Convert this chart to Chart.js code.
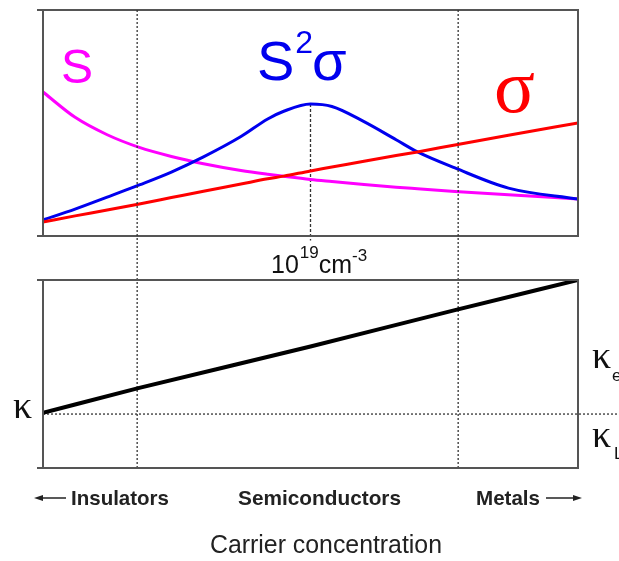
<!DOCTYPE html>
<html>
<head>
<meta charset="utf-8">
<script src="https://cdn.jsdelivr.net/npm/chart.js@4"></script>
<style>
  html, body { margin: 0; padding: 0; background: #fff; }
  #wrap { position: relative; width: 619px; height: 561px; }
  #wrap canvas { position: absolute; left: 0; top: 0; }
</style>
</head>
<body>
<div id="wrap">
  <canvas id="top-chart" width="619" height="561"></canvas>
  <canvas id="bottom-chart" width="619" height="561"></canvas>
</div>
<script>
// carrier concentration axis (arbitrary units, 50 = 10^19 cm^-3)
const xVals = [0, 6, 12, 18, 24, 30, 37, 42, 45, 50, 54, 60, 66, 70, 77, 87, 100];
const seebeck = [63.7, 52.5, 44.8, 39.2, 35.2, 32.0, 29.0, 27.3, 26.4, 25.0, 24.1, 22.8, 21.6, 20.9, 19.7, 18.2, 16.4];
const powerFactor = [7.1, 11.9, 17.2, 22.6, 28.3, 35.0, 44.0, 51.8, 55.2, 58.4, 57.3, 50.6, 42.6, 37.2, 30.1, 21.2, 16.4];
const conductivity = [6.2, 8.9, 11.5, 14.2, 17.0, 19.8, 23.0, 25.3, 26.5, 28.8, 30.5, 33.1, 35.6, 37.2, 40.3, 44.6, 50.0];

// thermal conductivity (bottom panel)
const kappaX = [0, 18, 50, 77, 100];
const kappaVals = [29.3, 42.6, 64.6, 84.0, 100];
const kappaLattice = 28.7;

// region borders and the 10^19 marker
const dividerX = [17.6, 77.6];
const peakX = 50;
const peakY = 58.4;

const regionLabels = ['Insulators', 'Semiconductors', 'Metals'];

function pts(xs, ys) {
    return xs.map((x, i) => ({ x: x, y: ys[i] }));
}

function drawFrame(chart) {
    const { ctx, chartArea: a } = chart;
    ctx.save();
    ctx.strokeStyle = '#555';
    ctx.lineWidth = 2;
    ctx.strokeRect(a.left, a.top, a.right - a.left, a.bottom - a.top);
    ctx.beginPath();
    ctx.moveTo(a.left - 6, a.top); ctx.lineTo(a.left, a.top);
    ctx.moveTo(a.left - 6, a.bottom); ctx.lineTo(a.left, a.bottom);
    ctx.stroke();
    ctx.restore();
}

function text(ctx, str, x, y, font, color, maxWidth) {
    ctx.font = font;
    ctx.fillStyle = color;
    if (maxWidth) ctx.fillText(str, x, y, maxWidth);
    else ctx.fillText(str, x, y);
    return x + Math.min(ctx.measureText(str).width, maxWidth || 1e9);
}

function arrow(ctx, x1, x2, y) {
    const dir = Math.sign(x2 - x1);
    ctx.beginPath();
    ctx.moveTo(x1, y); ctx.lineTo(x2 - dir * 6, y);
    ctx.stroke();
    ctx.beginPath();
    ctx.moveTo(x2, y);
    ctx.lineTo(x2 - dir * 9, y - 3);
    ctx.lineTo(x2 - dir * 9, y + 3);
    ctx.closePath();
    ctx.fill();
}

const lineBase = { pointRadius: 0, borderWidth: 3, cubicInterpolationMode: 'monotone', fill: false };
const guide = { pointRadius: 0, borderWidth: 1.3, borderColor: '#333', borderDash: [2, 2], clip: false, fill: false };

const hiddenScales = {
    x: { type: 'linear', min: 0, max: 100, display: false },
    y: { min: 0, max: 100, display: false }
};

const topLabels = {
    id: 'topLabels',
    afterDatasetsDraw(chart) {
        drawFrame(chart);
        const ctx = chart.ctx;
        ctx.save();
        ctx.textBaseline = 'alphabetic';
        ctx.textAlign = 'left';
        text(ctx, 'S', 61, 83, '48px "Liberation Sans"', '#ff00ff');
        let x = text(ctx, 'S', 257, 80, '56px "Liberation Sans"', '#0000ee');
        text(ctx, '2', x + 1, 53, '32px "Liberation Sans"', '#0000ee');
        text(ctx, 'σ', 312, 80, '56px "Liberation Sans"', '#0000ee');
        text(ctx, 'σ', 494, 112, '76px "Liberation Serif"', '#ff0000');
        // 10^19 cm^-3
        x = text(ctx, '10', 271, 273, '25px "Liberation Sans"', '#111');
        x = text(ctx, '19', x + 1, 258, '17px "Liberation Sans"', '#111');
        x = text(ctx, 'cm', x, 273, '25px "Liberation Sans"', '#111');
        text(ctx, '-3', x, 261, '17px "Liberation Sans"', '#111');
        ctx.restore();
    }
};

const bottomLabels = {
    id: 'bottomLabels',
    afterDatasetsDraw(chart) {
        drawFrame(chart);
        const ctx = chart.ctx;
        ctx.save();
        ctx.textBaseline = 'alphabetic';
        ctx.textAlign = 'left';
        text(ctx, 'κ', 13, 418, '38px "Liberation Serif"', '#111');
        text(ctx, 'κ', 592, 368, '38px "Liberation Serif"', '#111');
        text(ctx, 'e', 612, 381, '17px "Liberation Sans"', '#111');
        text(ctx, 'κ', 592, 447, '38px "Liberation Serif"', '#111');
        text(ctx, 'L', 614, 459, '17px "Liberation Sans"', '#111');

        const bold = 'bold 21px "Liberation Sans"';
        text(ctx, regionLabels[0], 71, 505, bold, '#222', 98);
        text(ctx, regionLabels[1], 238, 505, bold, '#222', 163);
        text(ctx, regionLabels[2], 476, 505, bold, '#222', 64);
        ctx.strokeStyle = '#222';
        ctx.fillStyle = '#222';
        ctx.lineWidth = 1.5;
        arrow(ctx, 66, 34, 498);
        arrow(ctx, 546, 582, 498);

        text(ctx, 'Carrier concentration', 210, 553, '26px "Liberation Sans"', '#222', 232);
        ctx.restore();
    }
};

new Chart(document.getElementById('top-chart'), {
    type: 'line',
    data: {
        datasets: [
            { ...lineBase, label: 'σ', data: pts(xVals, conductivity), borderColor: '#ff0000', order: 1 },
            { ...lineBase, label: 'S²σ', data: pts(xVals, powerFactor), borderColor: '#0000ee', order: 2 },
            { ...lineBase, label: 'S', data: pts(xVals, seebeck), borderColor: '#ff00ff', order: 3 },
            { ...guide, label: '10^19', data: [{ x: peakX, y: peakY }, { x: peakX, y: -2 }], borderDash: [3, 2], order: 10 }
        ]
    },
    options: {
        responsive: false,
        animation: false,
        devicePixelRatio: 1,
        layout: { padding: { left: 43, right: 41, top: 10, bottom: 325 } },
        scales: hiddenScales,
        plugins: { legend: { display: false }, tooltip: { enabled: false } }
    },
    plugins: [topLabels]
});

new Chart(document.getElementById('bottom-chart'), {
    type: 'line',
    data: {
        datasets: [
            { ...lineBase, label: 'κ', data: pts(kappaX, kappaVals), borderColor: '#000', borderWidth: 4, order: 1 },
            { ...guide, label: 'κL', data: [{ x: 0, y: kappaLattice }, { x: 108, y: kappaLattice }], order: 10 },
            ...dividerX.map(d => ({ ...guide, label: 'border', data: [{ x: d, y: 0 }, { x: d, y: 244 }], order: 10 }))
        ]
    },
    options: {
        responsive: false,
        animation: false,
        devicePixelRatio: 1,
        layout: { padding: { left: 43, right: 41, top: 280, bottom: 93 } },
        scales: hiddenScales,
        plugins: { legend: { display: false }, tooltip: { enabled: false } }
    },
    plugins: [bottomLabels]
});
</script>
</body>
</html>
